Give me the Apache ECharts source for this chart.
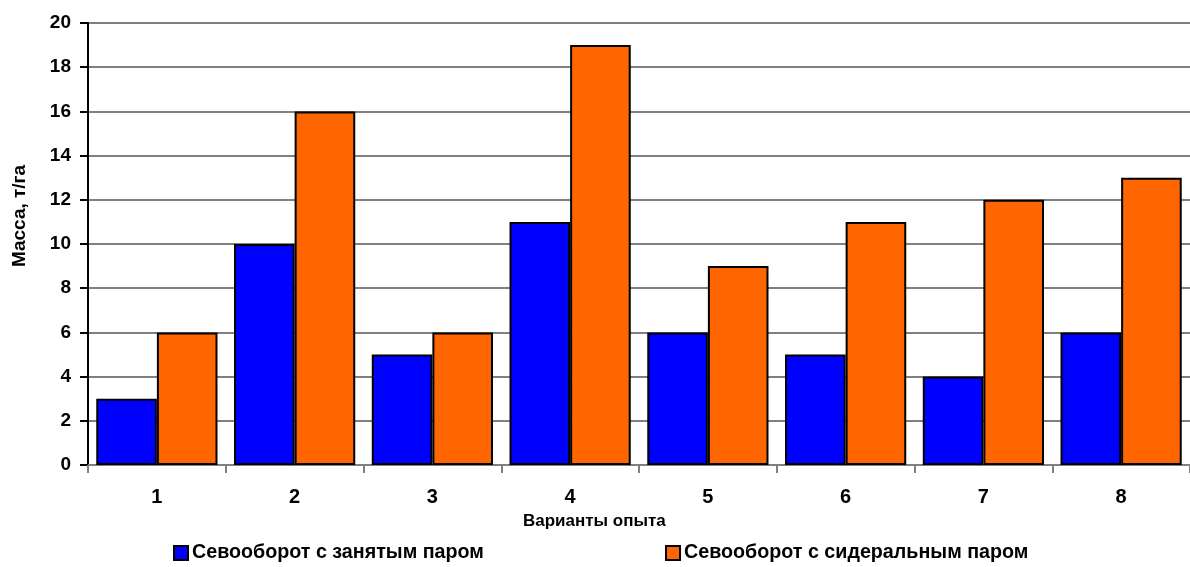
<!DOCTYPE html>
<html>
<head>
<meta charset="utf-8">
<script src="https://cdn.jsdelivr.net/npm/echarts@6/dist/echarts.min.js"></script>
<style>
  html, body { margin: 0; padding: 0; background: #fff; }
  #chart { width: 1190px; height: 567px; }
</style>
</head>
<body>
<div id="chart"></div>
<script>
// data
var categories = ['1', '2', '3', '4', '5', '6', '7', '8']
var occupiedFallow = [3, 10, 5, 11, 6, 5, 4, 6]
var greenFallow = [6, 16, 6, 19, 9, 11, 12, 13]
var seriesNames = ['Севооборот с занятым паром', 'Севооборот с сидеральным паром']
var xName = 'Варианты опыта'
var yName = 'Масса, т/га'

var font = '"Liberation Sans", Arial, sans-serif'
var chart = echarts.init(document.getElementById('chart'))

function legendAt (name, left) {
  return {
    data: [name],
    left: left, top: 543, padding: 0,
    itemWidth: 14, itemHeight: 14, icon: 'rect',
    textStyle: { fontFamily: font, fontWeight: 'bold', fontSize: 19.7, color: '#000', padding: [0, 0, 0, -1] }
  }
}

var option = {
  animation: false,
  grid: { left: 88, top: 23, width: 1112, height: 442 },
  legend: [legendAt(seriesNames[0], 173), legendAt(seriesNames[1], 665)],
  graphic: [
    {
      type: 'text', left: 523, top: 513,
      style: { text: xName, fontFamily: font, fontWeight: 'bold', fontSize: 17, fill: '#000' }
    },
    {
      type: 'text', x: 10, y: 216, rotation: Math.PI / 2,
      style: { text: yName, fontFamily: font, fontWeight: 'bold', fontSize: 19, fill: '#000', align: 'center', verticalAlign: 'top' }
    }
  ],
  xAxis: {
    type: 'category',
    data: categories,
    axisLine: { lineStyle: { color: '#808080', width: 2 } },
    axisTick: { show: true, length: 8, lineStyle: { color: '#808080', width: 2 } },
    axisLabel: { fontFamily: font, fontWeight: 'bold', fontSize: 20, color: '#000', margin: 22 }
  },
  yAxis: {
    type: 'value',
    min: 0, max: 20, interval: 2,
    axisLine: { show: true, lineStyle: { color: '#000', width: 2 } },
    axisTick: { show: true, length: 8, lineStyle: { color: '#000', width: 2 } },
    axisLabel: { fontFamily: font, fontWeight: 'bold', fontSize: 19, color: '#000', margin: 17 },
    splitLine: { lineStyle: { color: '#808080', width: 2 } }
  },
  series: [
    {
      name: seriesNames[0],
      type: 'bar',
      data: occupiedFallow,
      barGap: '0%',
      barCategoryGap: '12%',
      itemStyle: { color: '#0000ff', borderColor: '#000', borderWidth: 2 }
    },
    {
      name: seriesNames[1],
      type: 'bar',
      data: greenFallow,
      itemStyle: { color: '#ff6600', borderColor: '#000', borderWidth: 2 }
    }
  ]
}
chart.setOption(option, true)
</script>
</body>
</html>
